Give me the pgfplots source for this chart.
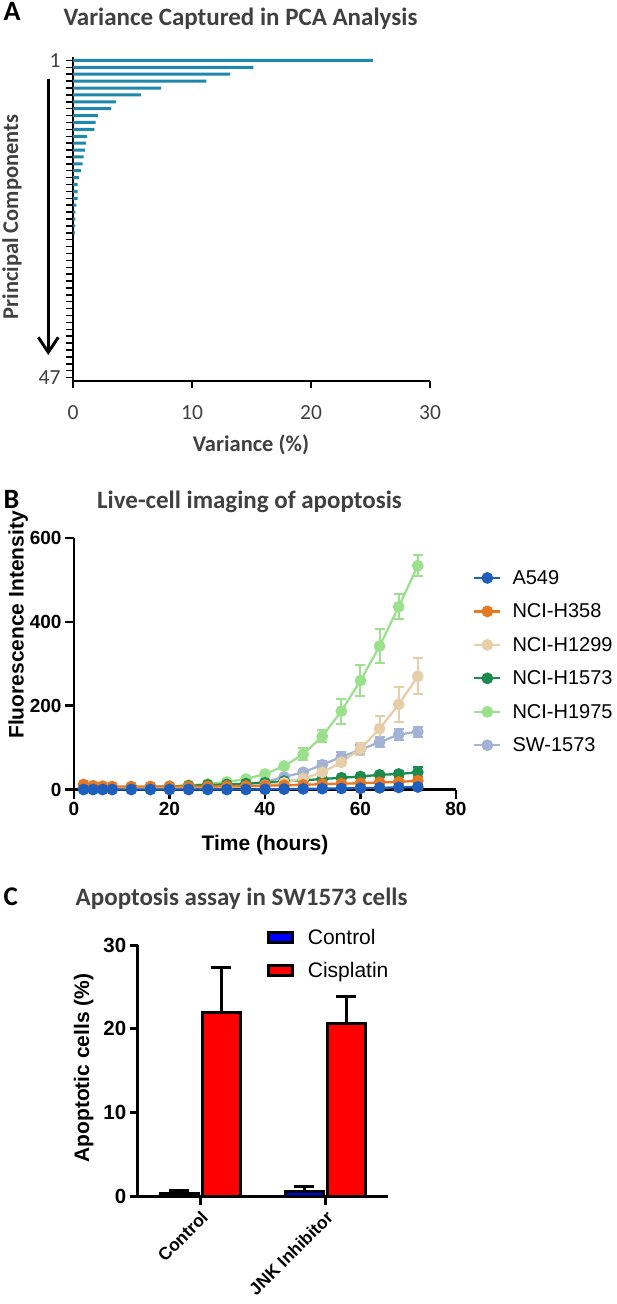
\documentclass[border=0pt]{standalone}
\usepackage{pgfplots}
\pgfplotsset{compat=1.18}
\usepackage{pgfplotstable}
\usepackage{fontspec}
\setmainfont{Liberation Sans}
\newfontfamily\calfont{Carlito}
\usetikzlibrary{arrows.meta}

\definecolor{pcablue}{RGB}{30,135,172}
\definecolor{txtgray}{RGB}{64,64,64}
\definecolor{cA}{RGB}{30,95,190}
\definecolor{cB}{RGB}{232,119,34}
\definecolor{cC}{RGB}{230,207,168}
\definecolor{cD}{RGB}{28,140,78}
\definecolor{cE}{RGB}{155,224,140}
\definecolor{cF}{RGB}{163,179,214}

% panel A: variance per principal component
\pgfplotstableread{
k v
1 25.2
2 15.15
3 13.2
4 11.2
5 7.4
6 5.7
7 3.6
8 3.2
9 2.1
10 1.9
11 1.8
12 1.18
13 1.09
14 1.0
15 0.9
16 0.81
17 0.67
18 0.5
19 0.39
20 0.39
21 0.38
22 0.28
23 0.2
24 0.2
25 0.18
26 0.15
27 0.0
}\pcadata

% panel B: t, mean, error
\pgfplotstableread{
t y e
2 0 1
4 0 1
6 0 1
8 0 1
12 0 1
16 0 1
20 0 1
24 0 1
28 0 1
32 0 1
36 0 1
40 0.5 1
44 1 1
48 1.5 1
52 2 1
56 2.5 1
60 3 1.5
64 4 2
68 5 2
72 6 2
}\aFivefournine
\pgfplotstableread{
t y e
2 12 2
4 9 2
6 8 2
8 7 2
12 7 2
16 7 2
20 7 2
24 7 2
28 7 2
32 8 2
36 8 2
40 9 2
44 10 2
48 11 2
52 13 2
56 14 3
60 15 3
64 17 4
68 18 5
72 21 8
}\hThreefiveeight
\pgfplotstableread{
t y e
2 5 1
4 5 1
6 5 1
8 5 1
12 5 1
16 5 1
20 5 1
24 5 1
28 5 1
32 6 1
36 7 2
40 10 2
44 16 3
48 26 4
52 41 5
56 65 8
60 97 15
64 145 30
68 203 42
72 270 43
}\hOnetwonine
\pgfplotstableread{
t y e
2 5 1
4 4 1
6 4 1
8 4 1
12 5 1
16 6 1
20 7 1
24 9 1
28 11 2
32 12 2
36 14 2
40 16 2
44 20 3
48 22 3
52 25 3
56 28 3
60 31 3
64 35 4
68 37 6
72 41 12
}\hOnefiveseven
\pgfplotstableread{
t y e
2 3 1
4 3 1
6 4 1
8 4 1
12 5 1
16 6 1
20 8 1
24 10 2
28 13 2
32 18 2
36 25 3
40 37 4
44 56 6
48 84 14
52 127 14
56 187 30
60 260 37
64 342 40
68 436 30
72 534 25
}\hOnenineseven
\pgfplotstableread{
t y e
2 5 1
4 5 1
6 5 1
8 5 1
12 5 1
16 5 1
20 5 1
24 6 1
28 8 1
32 10 2
36 13 2
40 18 3
44 30 4
48 41 5
52 59 8
56 78 12
60 95 12
64 113 12
68 131 13
72 138 12
}\swOnefiveseven

% panel C
\pgfplotstableread{
x y e
0 0.4 0.3
1 0.6 0.6
}\ctrl
\pgfplotstableread{
x y e
0 21.9 5.4
1 20.7 3.2
}\cis

\pgfplotsset{
  linestyle/.style={color=#1, mark=*, mark size=4.7pt, line width=2.3pt,
    mark options={solid, fill=#1},
    error bars/.cd, y dir=both, y explicit,
    error bar style={line width=2pt},
    error mark options={rotate=90, mark size=5pt, line width=2pt}},
  tickline/.style={forget plot, black, mark=none, line width=#1},
}

\begin{document}
\begin{tikzpicture}[x=1pt,y=1pt]
\useasboundingbox (0,0) rectangle (617,-1304);

% ---------- A ----------
\node[anchor=base west, font=\calfont\bfseries\fontsize{28}{32}\selectfont] at (0,-20) {A};
\node[anchor=base, font=\calfont\bfseries\fontsize{25}{30}\selectfont, text=txtgray] at (240.5,-25) {Variance Captured in PCA Analysis};
\begin{axis}[
  at={(73pt,-381pt)}, anchor=south west, scale only axis,
  width=357pt, height=324pt,
  xmin=0, xmax=30, ymin=-47.5, ymax=-0.5,
  axis lines*=left, axis line style={line width=2pt},
  tick align=outside, major tick length=7pt,
  xtick={0,10,20,30},
  ytick={-47,-46,...,-1},
  yticklabels={47,,,,,,,,,,,,,,,,,,,,,,,,,,,,,,,,,,,,,,,,,,,,,,1},
  xtick style={line width=1.5pt, draw=black},
  ytick style={line width=1.5pt, draw=black},
  every tick label/.append style={font=\calfont\fontsize{21.5}{26}\selectfont, text=txtgray},
  xticklabel shift=14pt,
  yticklabel style={xshift=-2pt},
  /pgf/number format/assume math mode=true,
  clip=false,
]
\addplot[xbar, bar width=3pt, bar shift=0pt, fill=pcablue, draw=none]
  table[x=v, y expr=-\thisrow{k}] {\pcadata};
% tick comb on the component axis
\addplot[tickline=1.5pt, xcomb] coordinates {
(-0.59,-1) (-0.59,-2) (-0.59,-3) (-0.59,-4) (-0.59,-5) (-0.59,-6) (-0.59,-7) (-0.59,-8)
(-0.59,-9) (-0.59,-10) (-0.59,-11) (-0.59,-12) (-0.59,-13) (-0.59,-14) (-0.59,-15) (-0.59,-16)
(-0.59,-17) (-0.59,-18) (-0.59,-19) (-0.59,-20) (-0.59,-21) (-0.59,-22) (-0.59,-23) (-0.59,-24)
(-0.59,-25) (-0.59,-26) (-0.59,-27) (-0.59,-28) (-0.59,-29) (-0.59,-30) (-0.59,-31) (-0.59,-32)
(-0.59,-33) (-0.59,-34) (-0.59,-35) (-0.59,-36) (-0.59,-37) (-0.59,-38) (-0.59,-39) (-0.59,-40)
(-0.59,-41) (-0.59,-42) (-0.59,-43) (-0.59,-44) (-0.59,-45) (-0.59,-46) (-0.59,-47)};
\addplot[tickline=1.5pt, sharp plot] coordinates {(0,-47.5) (0,-48.5)};
\addplot[tickline=1.5pt, sharp plot] coordinates {(10,-47.5) (10,-48.5)};
\addplot[tickline=1.5pt, sharp plot] coordinates {(20,-47.5) (20,-48.5)};
\addplot[tickline=1.5pt, sharp plot] coordinates {(30,-47.5) (30,-48.5)};
\end{axis}
\draw[line width=3pt, -{Straight Barb[length=15pt, width=20pt, line width=3pt]}] (48.3,-79) -- (48.3,-355);
\node[rotate=90, anchor=base, font=\calfont\bfseries\fontsize{22.5}{27}\selectfont, text=txtgray] at (18,-217) {Principal Components};
\node[anchor=base, font=\calfont\bfseries\fontsize{22.5}{27}\selectfont, text=txtgray] at (251,-451) {Variance (\%)};

% ---------- B ----------
\node[anchor=base west, font=\calfont\bfseries\fontsize{28}{32}\selectfont] at (0,-508) {B};
\node[anchor=base, font=\calfont\bfseries\fontsize{25}{30}\selectfont, text=txtgray] at (249.5,-508) {Live-cell imaging of apoptosis};
\begin{axis}[
  at={(74pt,-789.5pt)}, anchor=south west, scale only axis,
  width=382pt, height=251.5pt,
  xmin=0, xmax=80, ymin=0, ymax=600,
  axis lines*=left, axis line style={line width=2.5pt},
  tick align=outside, major tick length=9pt,
  xtick style={line width=2.5pt, draw=black},
  ytick style={line width=2.5pt, draw=black},
  xtick={0,20,...,80}, ytick={0,200,...,600},
  every tick label/.append style={font=\bfseries\fontsize{19}{23}\selectfont},
  /pgf/number format/assume math mode=true,
  clip=false,
  reverse legend,
  legend cell align=left,
  legend style={at={(rel axis cs:1,1)}, anchor=north west, xshift=17pt, yshift=-30pt,
    draw=none, fill=none, inner sep=0pt, row sep=14pt, column sep=9pt,
    font=\fontsize{20}{24}\selectfont},
  legend image code/.code={\draw[mark repeat=2, mark phase=2, #1] plot coordinates {(0pt,0pt) (13pt,0pt) (26pt,0pt)};},
]
\addplot[tickline=2.5pt, xcomb] coordinates {(-1.885,0) (-1.885,200) (-1.885,400) (-1.885,600)};
\addplot[tickline=2.5pt, ycomb] coordinates {(0,-21.5) (20,-21.5) (40,-21.5) (60,-21.5) (80,-21.5)};
\addplot[linestyle=cF] table[x=t, y=y, y error=e] {\swOnefiveseven};
\addlegendentry{SW-1573}
\addplot[linestyle=cE] table[x=t, y=y, y error=e] {\hOnenineseven};
\addlegendentry{NCI-H1975}
\addplot[linestyle=cD] table[x=t, y=y, y error=e] {\hOnefiveseven};
\addlegendentry{NCI-H1573}
\addplot[linestyle=cC] table[x=t, y=y, y error=e] {\hOnetwonine};
\addlegendentry{NCI-H1299}
\addplot[linestyle=cB] table[x=t, y=y, y error=e] {\hThreefiveeight};
\addlegendentry{NCI-H358}
\addplot[linestyle=cA] table[x=t, y=y, y error=e] {\aFivefournine};
\addlegendentry{A549}
\end{axis}
\node[rotate=90, anchor=base, font=\bfseries\fontsize{21}{25}\selectfont] at (23.5,-625) {Fluorescence Intensity};
\node[anchor=base, font=\bfseries\fontsize{21}{25}\selectfont] at (265,-850) {Time (hours)};

% ---------- C ----------
\node[anchor=base west, font=\calfont\bfseries\fontsize{27}{32}\selectfont] at (0,-905) {C};
\node[anchor=base, font=\calfont\bfseries\fontsize{25}{30}\selectfont, text=txtgray] at (241.6,-905) {Apoptosis assay in SW1573 cells};
\begin{axis}[
  at={(137.7pt,-1196.7pt)}, anchor=south west, scale only axis,
  width=250pt, height=251.7pt,
  xmin=-0.5, xmax=1.5, ymin=0, ymax=30,
  axis lines*=left, axis line style={line width=3pt},
  tick align=outside, major tick length=8pt,
  xtick style={line width=3pt, draw=black},
  ytick style={line width=3pt, draw=black},
  ybar=4pt, bar width=38pt,
  xtick={0,1}, xticklabels={Control, JNK Inhibitor},
  ytick={0,10,20,30},
  yticklabel style={font=\bfseries\fontsize{20.5}{24}\selectfont},
  xticklabel style={font=\bfseries\fontsize{17.5}{21}\selectfont, rotate=45, anchor=north east},
  /pgf/number format/assume math mode=true,
  clip=false,
  legend cell align=left,
  legend style={at={(rel axis cs:0,1)}, anchor=north west, xshift=129pt, yshift=18pt,
    draw=none, fill=none, inner sep=0pt, row sep=12pt, column sep=12pt,
    font=\fontsize{21}{25}\selectfont},
  error bars/y dir=plus, error bars/y explicit,
  error bars/error bar style={line width=3pt, black},
  error bars/error mark options={rotate=90, mark size=10pt, line width=3pt, black},
]
\addplot[fill=blue, draw=black, line width=3pt,
  legend image code/.code={\draw[fill=blue, draw=black, line width=3pt] (0pt,-5pt) rectangle (24pt,5pt);}]
  table[x=x, y=y, y error=e] {\ctrl};
\addlegendentry{Control}
\addplot[fill=red, draw=black, line width=3pt,
  legend image code/.code={\draw[fill=red, draw=black, line width=3pt] (0pt,-5pt) rectangle (24pt,5pt);}]
  table[x=x, y=y, y error=e] {\cis};
\addlegendentry{Cisplatin}
\end{axis}
\node[rotate=90, anchor=base, font=\bfseries\fontsize{21}{25}\selectfont] at (89,-1068) {Apoptotic cells (\%)};
\end{tikzpicture}
\end{document}
